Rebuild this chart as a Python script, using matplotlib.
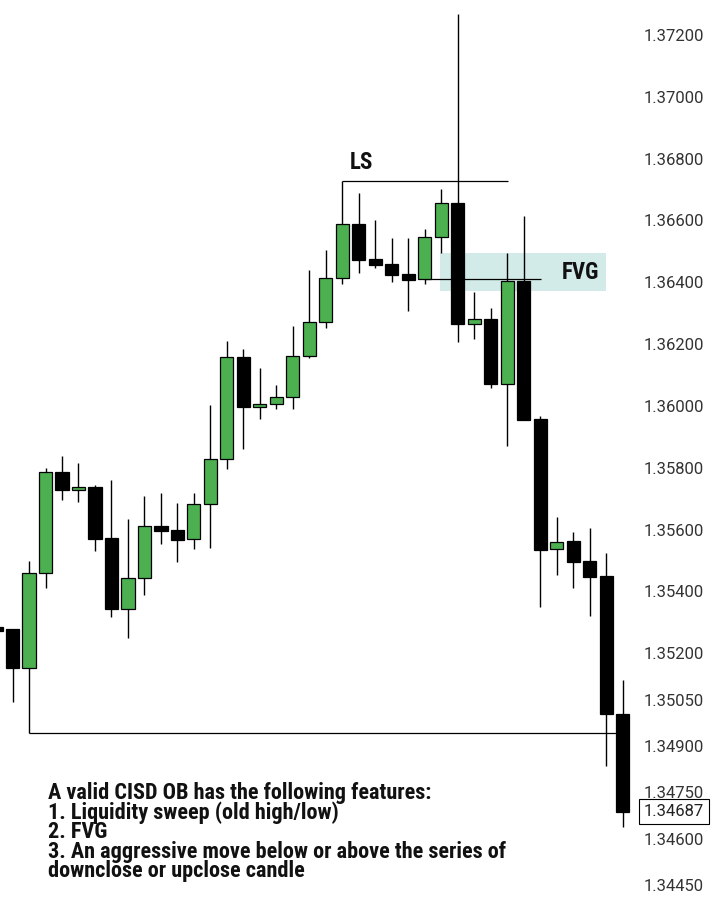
import matplotlib
matplotlib.use('Agg')
import matplotlib.pyplot as plt
from matplotlib import font_manager
import numpy as np

# candle data, x = -1 is the partly hidden candle at the left edge
opens = [1.35285, 1.35278, 1.35152, 1.35459, 1.35786, 1.35728, 1.35738, 1.35573, 1.35343,
         1.35443, 1.35612, 1.35599, 1.35569, 1.35683, 1.35828, 1.36158, 1.35997, 1.36006,
         1.36029, 1.36162, 1.36272, 1.36414, 1.36589, 1.36475, 1.36459, 1.36427, 1.36411,
         1.36547, 1.36657, 1.36265, 1.36281, 1.36071, 1.36404, 1.35958, 1.35537, 1.35563,
         1.35498, 1.35450, 1.35003]
highs = [1.35285, 1.35278, 1.35498, 1.35799, 1.35838, 1.35815, 1.35744, 1.35760, 1.35634,
         1.35709, 1.35718, 1.35686, 1.35718, 1.36003, 1.36210, 1.36184, 1.36123, 1.36068,
         1.36259, 1.36440, 1.36504, 1.36728, 1.36689, 1.36602, 1.36543, 1.36543, 1.36572,
         1.36702, 1.37268, 1.36369, 1.36317, 1.36495, 1.36614, 1.35967, 1.35641, 1.35592,
         1.35605, 1.35524, 1.35113]
lows = [1.35272, 1.35042, 1.34942, 1.35411, 1.35696, 1.35689, 1.35531, 1.35317, 1.35249,
        1.35388, 1.35553, 1.35495, 1.35537, 1.35540, 1.35796, 1.35861, 1.35958, 1.35990,
        1.35990, 1.36155, 1.36252, 1.36394, 1.36430, 1.36446, 1.36401, 1.36307, 1.36394,
        1.36495, 1.36207, 1.36217, 1.36058, 1.35870, 1.35954, 1.35349, 1.35453, 1.35411,
        1.35320, 1.34835, 1.34638]
closes = [1.35272, 1.35152, 1.35459, 1.35786, 1.35728, 1.35738, 1.35569, 1.35343, 1.35443,
          1.35612, 1.35595, 1.35566, 1.35683, 1.35828, 1.36158, 1.35997, 1.36006, 1.36029,
          1.36162, 1.36272, 1.36414, 1.36589, 1.36472, 1.36456, 1.36424, 1.36407, 1.36547,
          1.36657, 1.36265, 1.36281, 1.36071, 1.36404, 1.35954, 1.35534, 1.35560, 1.35495,
          1.35447, 1.35003, 1.34687]

yticks = [1.372, 1.370, 1.368, 1.366, 1.364, 1.362, 1.360, 1.358, 1.356, 1.354, 1.352,
          1.3505, 1.349, 1.3475, 1.346, 1.3445]

ls_candle = 20        # sweep high
fvg_top = 1.36495
fvg_bottom = 1.36372
fvg_line = 1.36411
sweep_low_candle = 1  # old low

notes = ["A valid CISD OB has the following features:",
         "1. Liquidity sweep (old high/low)",
         "2. FVG",
         "3. An aggressive move below or above the series of",
         "downclose or upclose candle"]

names = {f.name for f in font_manager.fontManager.ttflist}
bold_font = 'Roboto Condensed' if 'Roboto Condensed' in names else 'Roboto'

x = np.arange(-1, len(opens) - 1)
o = np.array(opens)
c = np.array(closes)
h = np.array(highs)
l = np.array(lows)
up = c >= o

fig = plt.figure(figsize=(7.2, 9.17), dpi=100)
ax = fig.add_axes([0, 0, 632 / 720, 1])

ax.vlines(x, l, h, color='black', lw=1.0, zorder=2)
ax.bar(x, np.abs(c - o), bottom=np.minimum(o, c), width=0.79,
       color=np.where(up, '#4caf50', 'black'), edgecolor='black', linewidth=0.9, zorder=3)

# FVG zone
ax.add_patch(plt.Rectangle((25.9, fvg_bottom), 10.1, fvg_top - fvg_bottom,
                           facecolor='#d2ebe8', edgecolor='none', zorder=0))
ax.hlines(fvg_line, 25, 32.03, color='black', lw=0.9, zorder=1)
ax.text(33.3, 1.36433, 'FVG', fontsize=16.5, fontweight='bold', family=bold_font,
        ha='left', va='center', color='#111111')

# liquidity sweep
ax.hlines(h[ls_candle + 1], ls_candle, 30.03, color='black', lw=0.9, zorder=1)
ax.text(20.45, 1.36789, 'LS', fontsize=16.5, fontweight='bold', family=bold_font,
        ha='left', va='center', color='#111111')

# old low line
ax.hlines(l[sweep_low_candle + 1], sweep_low_candle, 36.64, color='black', lw=0.9, zorder=1)

ax.set_xlim(-0.758, 37.55)
ax.set_ylim(1.343465, 1.373132)
for s in ax.spines.values():
    s.set_visible(False)
ax.set_xticks([])
ax.yaxis.tick_right()
ax.set_yticks(yticks)
ax.set_yticklabels([f'{t:.5f}' for t in yticks])
ax.tick_params(axis='y', length=0, pad=8.6, labelsize=12, labelcolor='#333333')
for lab in ax.get_yticklabels():
    lab.set_family('Roboto')

# last price box
ax.text(1.0 + 12 / 632, c[-1], f'{c[-1]:.5f}', transform=ax.get_yaxis_transform(),
        fontsize=12, family='Roboto', color='#222222', ha='left', va='center', clip_on=False,
        bbox=dict(boxstyle='square,pad=0.3', fc='white', ec='black', lw=0.8), zorder=5)

fig.text(48 / 720, 1 - 832 / 917, '\n'.join(notes), fontsize=16, fontweight='bold',
         family=bold_font, ha='left', va='center', color='#111111', linespacing=0.86)

fig.savefig('out.png', dpi=100)
